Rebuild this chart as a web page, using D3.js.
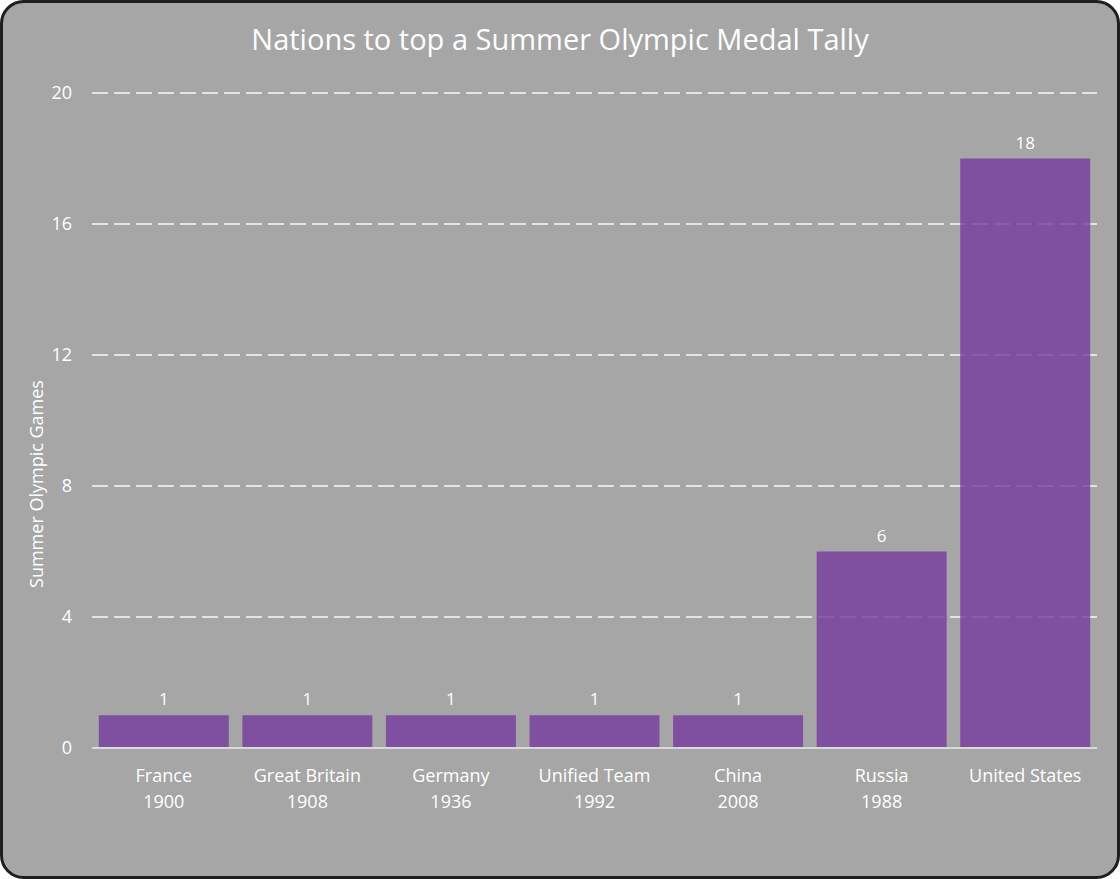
<!DOCTYPE html>
<html>
<head>
<meta charset="utf-8">
<script src="https://cdn.jsdelivr.net/npm/d3@7"></script>
<style>
  html, body { margin: 0; padding: 0; background: #ffffff; }
  svg { display: block; font-family: "Open Sans", "Noto Sans", sans-serif; }
</style>
</head>
<body>
<div id="chart"></div>
<script>
// chart data
const nations = ['France', 'Great Britain', 'Germany', 'Unified Team', 'China', 'Russia', 'United States'];
const firstYears = ['1900', '1908', '1936', '1992', '2008', '1988', ''];
const gamesTopped = [1, 1, 1, 1, 1, 6, 18];
const yTicks = [0, 4, 8, 12, 16, 20];

const width = 1120;
const height = 879;
const margin = {top: 93, right: 23, bottom: 131, left: 92};

const svg = d3.select('#chart').append('svg')
  .attr('width', width)
  .attr('height', height);

// panel with rounded border
svg.append('rect')
  .attr('x', 1.5)
  .attr('y', 1.5)
  .attr('width', width - 3)
  .attr('height', height - 3)
  .attr('rx', 22)
  .attr('fill', '#a6a6a6')
  .attr('stroke', '#1e1e1e')
  .attr('stroke-width', 3);

const xScale = d3.scaleBand()
  .domain(nations)
  .range([margin.left, width - margin.right])
  .paddingInner(0.095)
  .paddingOuter(0.0475);

const yScale = d3.scaleLinear()
  .domain([0, 20])
  .range([height - margin.bottom, margin.top]);

// title
svg.append('text')
  .attr('x', 560)
  .attr('y', 50)
  .attr('text-anchor', 'middle')
  .attr('fill', '#ffffff')
  .attr('font-size', 29)
  .text('Nations to top a Summer Olympic Medal Tally');

// dashed gridlines (under the bars, bars are a bit see-through)
svg.append('g')
  .selectAll('line')
  .data(yTicks.filter(d => d > 0))
  .enter().append('line')
    .attr('x1', margin.left)
    .attr('x2', width - margin.right)
    .attr('y1', d => yScale(d))
    .attr('y2', d => yScale(d))
    .attr('stroke', '#e4e4e4')
    .attr('stroke-width', 2)
    .attr('stroke-dasharray', '16,6');

// bars
svg.append('g')
  .selectAll('rect')
  .data(gamesTopped)
  .enter().append('rect')
    .attr('x', (d, i) => xScale(nations[i]))
    .attr('y', d => yScale(d))
    .attr('width', xScale.bandwidth())
    .attr('height', d => yScale(0) - yScale(d))
    .attr('fill', 'rgb(117,57,159)')
    .attr('fill-opacity', 0.8);

// value labels
svg.append('g')
  .selectAll('text')
  .data(gamesTopped)
  .enter().append('text')
    .attr('x', (d, i) => xScale(nations[i]) + xScale.bandwidth() / 2)
    .attr('y', d => yScale(d) - 10)
    .attr('text-anchor', 'middle')
    .attr('fill', '#ffffff')
    .attr('font-size', 17)
    .text(d => d);

// zero line
svg.append('line')
  .attr('x1', margin.left)
  .attr('x2', width - margin.right)
  .attr('y1', yScale(0))
  .attr('y2', yScale(0))
  .attr('stroke', '#d9d9d9')
  .attr('stroke-width', 2);

// y axis labels
const yAxis = d3.axisLeft(yScale).tickValues(yTicks).tickSize(0).tickPadding(20);
const yAxisG = svg.append('g')
  .attr('transform', 'translate(' + margin.left + ',0)')
  .call(yAxis);
yAxisG.attr('font-family', null).attr('font-size', null);
yAxisG.select('.domain').remove();
yAxisG.selectAll('text')
  .attr('fill', '#ffffff')
  .attr('font-size', 18);

// x axis labels, two lines each
const xAxis = d3.axisBottom(xScale).tickSize(0).tickFormat('');
const xAxisG = svg.append('g')
  .attr('transform', 'translate(0,' + yScale(0) + ')')
  .call(xAxis);
xAxisG.attr('font-family', null).attr('font-size', null);
xAxisG.select('.domain').remove();
xAxisG.selectAll('.tick').each(function(d, i) {
  const t = d3.select(this).append('text')
    .attr('text-anchor', 'middle')
    .attr('fill', '#ffffff')
    .attr('font-size', 18);
  t.append('tspan').attr('x', 0).attr('y', 34).text(d);
  if (firstYears[i]) {
    t.append('tspan').attr('x', 0).attr('y', 60).text(firstYears[i]);
  }
});

// y axis title
svg.append('text')
  .attr('transform', 'translate(43,484) rotate(-90)')
  .attr('text-anchor', 'middle')
  .attr('fill', '#ffffff')
  .attr('font-size', 18)
  .text('Summer Olympic Games');
</script>
</body>
</html>
